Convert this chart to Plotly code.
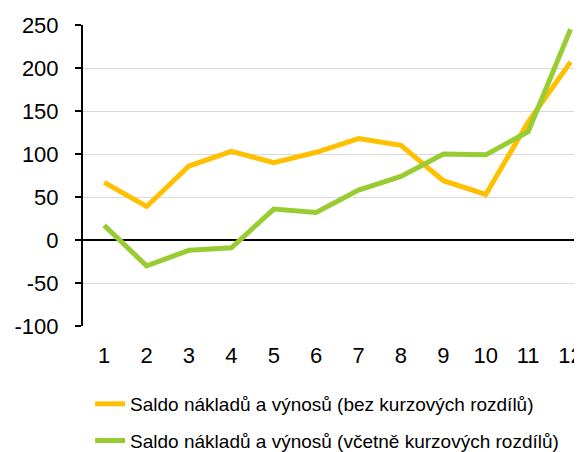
import plotly.graph_objects as go

months = list(range(1, 13))
bez_kurz = [67, 39, 86, 103, 90, 102, 118, 110, 69, 53, 137, 207]
vcetne_kurz = [17, -30, -12, -9, 36, 32, 58, 74, 100, 99, 126, 245]
y_ticks = [-100, -50, 0, 50, 100, 150, 200, 250]
y_labels = ["-100", "-50", "0", "50", "100", "150", "200", "250"]

fig = go.Figure()
fig.add_trace(go.Scatter(
    x=months, y=bez_kurz, mode="lines", legendgroup="a",
    name="Saldo nákladů a výnosů (bez kurzových rozdílů)",
    line=dict(color="#ffc000", width=5),
))
fig.add_trace(go.Scatter(
    x=months, y=vcetne_kurz, mode="lines", legendgroup="b",
    name="Saldo nákladů a výnosů (včetně kurzových rozdílů)",
    line=dict(color="#99cc33", width=5),
))

fig.update_layout(
    width=574, height=444,
    margin=dict(l=75, r=0, t=17, b=126, autoexpand=False),
    paper_bgcolor="white", plot_bgcolor="white",
    font=dict(family="Liberation Sans, Arial, sans-serif", color="#000000"),
    showlegend=True,
    legend=dict(
        orientation="v", xref="container", yref="container",
        x=0.143, y=0.151, xanchor="left", yanchor="top",
        font=dict(size=19), tracegroupgap=9, itemwidth=30,
    ),
    xaxis=dict(
        tickmode="array", tickvals=months, ticktext=[str(m) for m in months],
        range=[0.5, 12.27], showgrid=False, zeroline=False, showline=False,
        ticks="", tickfont=dict(size=22), ticklabelstandoff=14,
        ticklabeloverflow="allow",
    ),
    yaxis=dict(
        tickmode="array", tickvals=y_ticks, ticktext=y_labels,
        range=[-100, 250], showgrid=True,
        gridcolor="#d9d9d9", gridwidth=1,
        zeroline=True, zerolinecolor="#000000", zerolinewidth=2,
        showline=True, linecolor="#000000", linewidth=2,
        ticks="outside", ticklen=6, tickcolor="#000000", tickwidth=2,
        tickfont=dict(size=22), ticklabelstandoff=12,
    ),
)

fig.write_html("out.html")
